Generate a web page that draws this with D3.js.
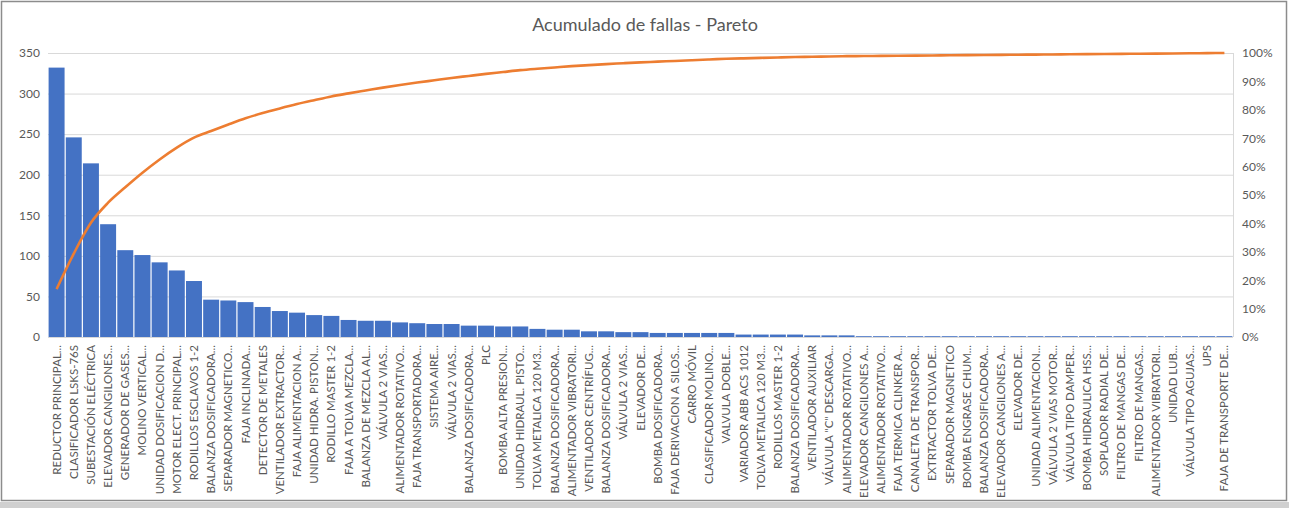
<!DOCTYPE html>
<html><head><meta charset="utf-8">
<script src="https://cdn.jsdelivr.net/npm/d3@7"></script>
<style>
html,body{margin:0;padding:0;background:#fff;}
svg{display:block;font-family:Lato,"Open Sans",sans-serif;}
</style></head>
<body><svg id="c" width="1289" height="508"></svg>
<script>
const categories = [
"REDUCTOR PRINCIPAL...","CLASIFICADOR LSKS-76S","SUBESTACIÓN ELÉCTRICA","ELEVADOR CANGILONES...",
"GENERADOR DE GASES...","MOLINO VERTICAL...","UNIDAD DOSIFICACION D...","MOTOR ELECT. PRINCIPAL...",
"RODILLOS ESCLAVOS 1-2","BALANZA DOSIFICADORA...","SEPARADOR MAGNETICO...","FAJA INCLINADA...",
"DETECTOR DE METALES","VENTILADOR EXTRACTOR...","FAJA ALIMENTACION A...","UNIDAD HIDRA. PISTON...",
"RODILLO MASTER 1-2","FAJA A TOLVA MEZCLA...","BALANZA DE MEZCLA AL...","VÁLVULA 2 VIAS...",
"ALIMENTADOR ROTATIVO...","FAJA TRANSPORTADORA...","SISTEMA AIRE...","VÁLVULA 2 VIAS...",
"BALANZA DOSIFICADORA...","PLC","BOMBA ALTA PRESION...","UNIDAD HIDRAUL. PISTO...",
"TOLVA METALICA 120 M3...","BALANZA DOSIFICADORA...","ALIMENTADOR VIBRATORI...","VENTILADOR CENTRÍFUG...",
"BALANZA DOSIFICADORA...","VÁLVULA 2 VIAS...","ELEVADOR DE...","BOMBA DOSIFICADORA...",
"FAJA DERIVACION A SILOS...","CARRO MÓVIL","CLASIFICADOR MOLINO...","VALVULA DOBLE...",
"VARIADOR ABB ACS 1012","TOLVA METALICA 120 M3...","RODILLOS MASTER 1-2","BALANZA DOSIFICADORA...",
"VENTILADOR AUXILIAR","VÁLVULA \"C\" DESCARGA...","ALIMENTADOR ROTATIVO...","ELEVADOR CANGILONES A...",
"ALIMENTADOR ROTATIVO...","FAJA TERMICA CLINKER A...","CANALETA DE TRANSPOR...","EXTRTACTOR TOLVA DE...",
"SEPARADOR MAGNETICO","BOMBA ENGRASE CHUM...","BALANZA DOSIFICADORA...","ELEVADOR CANGILONES A...",
"ELEVADOR DE...","UNIDAD ALIMENTACION...","VÁLVULA 2 VIAS MOTOR...","VÁLVULA TIPO DAMPER...",
"BOMBA HIDRAULICA HSS...","SOPLADOR RADIAL DE...","FILTRO DE MANGAS DE...","FILTRO DE MANGAS...",
"ALIMENTADOR VIBRATORI...","UNIDAD LUB...","VÁLVULA TIPO AGUJAS...","UPS","FAJA DE TRANSPORTE DE..."
];
const fallas = [
332,246,214,139,107,101,92,82,69,46,45,43,37,32,30,27,26,21,20,20,
18,17,16,16,14,14,13,13,10,9,9,7,7,6,6,5,5,5,5,5,
3,3,3,3,2,2,2,1,1,1,1,1,1,1,1,1,1,1,1,1,
1,1,1,1,1,1,1,1,1
];
const leftTicks = [0,50,100,150,200,250,300,350];
const rightTicks = [0,0.1,0.2,0.3,0.4,0.5,0.6,0.7,0.8,0.9,1.0];
const title = "Acumulado de fallas - Pareto";

const svg = d3.select("#c");
const W = 1289, H = 508;
const m = {left:48, right:56, top:53, bottom:171};
const iw = W - m.left - m.right, ih = H - m.top - m.bottom;

// frame
svg.append("rect").attr("x",1.5).attr("y",1.5).attr("width",W-4).attr("height",H-9)
  .attr("fill","#fff").attr("stroke","#8c8c8c").attr("stroke-width",1.5);
svg.append("rect").attr("x",0).attr("y",H-6).attr("width",W).attr("height",6).attr("fill","#d0d0d0");

const g = svg.append("g").attr("transform",`translate(${m.left},${m.top})`);
const idx = categories.map((d,i)=>i);
const x = d3.scaleBand().domain(idx).range([0,iw]).paddingInner(0.07).paddingOuter(0.035);
const y = d3.scaleLinear().domain([0,350]).range([ih,0]);
const y2 = d3.scaleLinear().domain([0,1]).range([ih,0]);

const total = d3.sum(fallas);
const cum = Array.from(d3.cumsum(fallas)).map(v=>v/total);

// gridlines
g.append("g").selectAll("line").data(leftTicks).join("line")
  .attr("x1",0).attr("x2",iw).attr("y1",d=>y(d)+0.5).attr("y2",d=>y(d)+0.5)
  .attr("stroke","#d9d9d9").attr("stroke-width",1);
g.append("line").attr("x1",iw+0.5).attr("x2",iw+0.5).attr("y1",0).attr("y2",ih)
  .attr("stroke","#d9d9d9");

// bars
g.append("g").selectAll("rect").data(fallas).join("rect")
  .attr("x",(d,i)=>x(i)).attr("width",x.bandwidth())
  .attr("y",d=>y(d)).attr("height",d=>ih-y(d)).attr("fill","#4472c4");

// baseline
g.append("line").attr("x1",0).attr("x2",iw).attr("y1",ih+0.5).attr("y2",ih+0.5).attr("stroke","#d9d9d9");

// pareto line
const line = d3.line().x((d,i)=>x(i)+x.bandwidth()/2).y(d=>y2(d)).curve(d3.curveMonotoneX);
g.append("path").datum(cum).attr("d",line).attr("fill","none")
  .attr("stroke","#ed7d31").attr("stroke-width",2.6).attr("stroke-linejoin","round");

// left axis
const ax = d3.axisLeft(y).tickValues(leftTicks).tickSize(0).tickPadding(8);
const ag = g.append("g").call(ax);
ag.select(".domain").remove();
ag.selectAll("text").attr("fill","#595959").style("font-size","12px").style("font-family","Lato, sans-serif");

// right axis
const ar = d3.axisRight(y2).tickValues(rightTicks).tickFormat(d3.format(".0%")).tickSize(0).tickPadding(9);
const arg = g.append("g").attr("transform",`translate(${iw},0)`).call(ar);
arg.select(".domain").remove();
arg.selectAll("text").attr("fill","#595959").style("font-size","12px").style("font-family","Lato, sans-serif");

// x axis labels
const xa = d3.axisBottom(x).tickFormat(i=>categories[i]).tickSize(0).tickPadding(0);
const xg = g.append("g").attr("transform",`translate(0,${ih})`).call(xa);
xg.select(".domain").remove();
xg.selectAll("text")
  .attr("transform","rotate(-90)")
  .attr("x",-8).attr("y",0).attr("dy","0.35em")
  .attr("text-anchor","end")
  .attr("fill","#595959").style("font-size","11.5px").style("font-family","Lato, sans-serif");

// title
svg.append("text").attr("x",645).attr("y",31).attr("text-anchor","middle")
  .attr("fill","#595959").style("font-size","18px").style("font-family","Lato, sans-serif")
  .text(title);
</script></body></html>
